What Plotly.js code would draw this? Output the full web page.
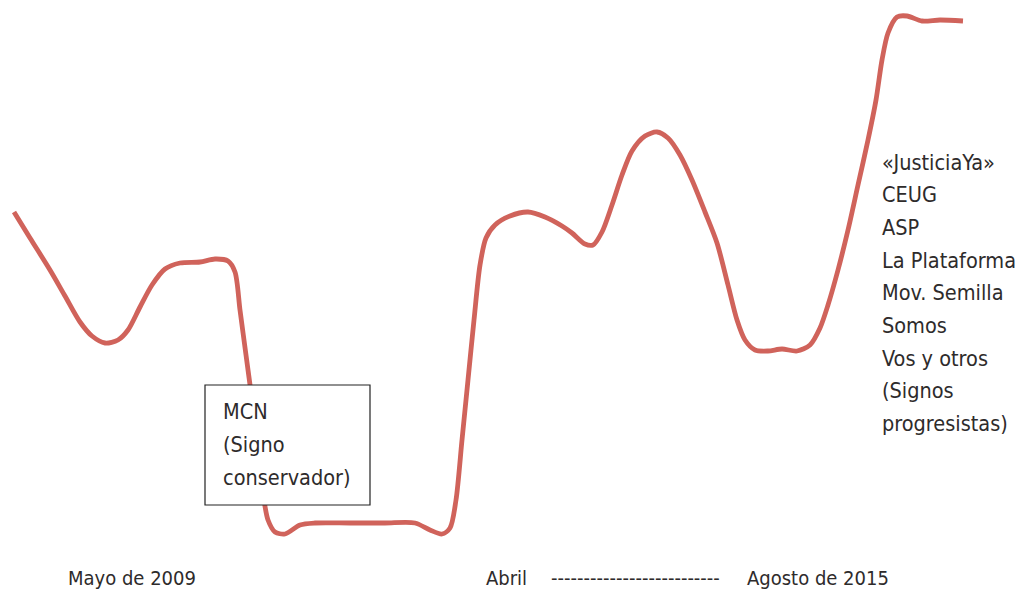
<!DOCTYPE html>
<html>
<head>
<meta charset="utf-8">
<script src="https://cdn.plot.ly/plotly-3.0.1.min.js"></script>
<style>html,body{margin:0;padding:0;background:#fff;}#chart{width:1020px;height:590px;}</style>
</head>
<body>
<div id="chart"></div>
<script>
// Time position (arbitrary units, left to right) and level of the curve
var t = [14,30,50,65,80,92,105,118,128,140,152,165,180,200,215,228,235,240,246,252,258,264,268,275,285,300,315,350,385,415,430,442,450,456,462,468,474,480,486,495,510,528,545,562,572,585,593,602,612,622,632,645,657,668,680,692,705,717,728,737,745,755,768,782,797,810,820,828,838,848,858,868,876,882,888,897,907,922,940,963];
var nivelPx = [212,238,270,296,322,336,343,340,330,307,285,269,263,262,259,261,272,310,355,400,450,500,520,532,534,525,523,523,523,523,530,534,528,500,440,380,320,265,238,225,216,212,217,226,233,244,245,232,205,175,151,136,132,138,155,180,212,243,285,320,340,350,351,349,351,345,328,305,270,230,185,140,100,60,33,17,16,21,20,21];
var nivel = nivelPx.map(function(v){return 590 - v;});

var bottomLabels = ["Mayo de 2009", "Abril", "--------------------------", "Agosto de 2015"];
var bottomPos = [66, 484, 549, 745];
var boxLines = ["MCN", "(Signo", "conservador)"];
var rightLines = ["«JusticiaYa»", "CEUG", "ASP", "La Plataforma", "Mov. Semilla", "Somos", "Vos y otros", "(Signos", "progresistas)"];

var FONT = '"Liberation Sans Narrow", "Arial Narrow", "DejaVu Sans Condensed", sans-serif';
var TXT = '#2e2b2b';

var annotations = [];
bottomLabels.forEach(function(s, i){
  annotations.push({x: bottomPos[i], y: 590-578, xref:'x', yref:'y', text: s, showarrow:false,
    xanchor:'left', yanchor:'middle', font:{family:FONT, size:20, color:TXT}});
});
boxLines.forEach(function(s, i){
  annotations.push({x: 221, y: 590-(411 + i*33), xref:'x', yref:'y', text: s, showarrow:false,
    xanchor:'left', yanchor:'middle', font:{family:FONT, size:21.5, color:TXT}});
});
rightLines.forEach(function(s, i){
  annotations.push({x: 880, y: 590-(162 + i*32.7), xref:'x', yref:'y', text: s, showarrow:false,
    xanchor:'left', yanchor:'middle', font:{family:FONT, size:21.5, color:TXT}});
});

var trace = {x: t, y: nivel, mode:'lines', type:'scatter',
  line:{color:'#d0635b', width:4.8, shape:'spline', smoothing:0.8}, hoverinfo:'skip'};

var layout = {
  width:1020, height:590, margin:{l:0,r:0,t:0,b:0},
  paper_bgcolor:'#ffffff', plot_bgcolor:'#ffffff', showlegend:false,
  xaxis:{range:[0,1020], visible:false, fixedrange:true},
  yaxis:{range:[0,590], visible:false, fixedrange:true},
  shapes:[{type:'rect', xref:'x', yref:'y', x0:205, x1:370, y0:590-385, y1:590-505,
    fillcolor:'#ffffff', line:{color:'#222', width:1.2}, layer:'above'}],
  annotations: annotations
};
Plotly.newPlot('chart', [trace], layout, {displayModeBar:false, staticPlot:true});
</script>
</body>
</html>
